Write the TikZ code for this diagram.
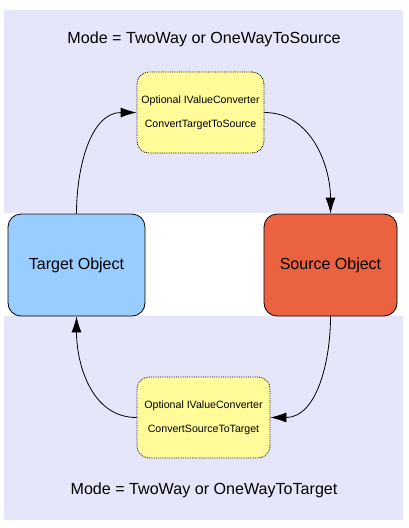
\documentclass[tikz,border=0pt]{standalone}
\usepackage{fontspec}
\setmainfont{Liberation Sans}
\usepackage{tikz}
\usetikzlibrary{arrows.meta}

\definecolor{bandbg}{HTML}{E6E6FA}
\definecolor{convyellow}{HTML}{FFFC99}
\definecolor{tgtblue}{HTML}{99CCFF}
\definecolor{srcred}{HTML}{EA6240}

\begin{document}
\begin{tikzpicture}[x=1pt,y=-1pt,
  obj/.style={draw, line width=0.8pt, rounded corners=13pt, minimum height=102pt, font=\fontsize{16}{19}\selectfont},
  conv/.style={draw, densely dotted, line width=0.8pt, rounded corners=12pt, fill=convyellow, minimum height=81pt, align=center, font=\fontsize{10.6}{13}\selectfont},
  mode/.style={font=\fontsize{16.1}{19}\selectfont},
  arr/.style={-{Latex[length=16pt,width=10pt]}, line width=0.8pt}]
  \useasboundingbox (0,0) rectangle (408,528);
  % mode bands
  \fill[bandbg] (4,10) rectangle (403,213);
  \fill[bandbg] (4,316) rectangle (403,520);

  \node[mode] (m1) at (204,39) {Mode = TwoWay or OneWayToSource};
  \node[mode] (m2) at (204,490) {Mode = TwoWay or OneWayToTarget};

  \node[obj, fill=tgtblue, minimum width=137pt] (tgt) at (76.5,265) {Target Object};
  \node[obj, fill=srcred, minimum width=133pt] (src) at (330.5,265) {Source Object};

  \node[conv, minimum width=127pt] (c1) at (200.5,112.5)
    {Optional IValueConverter\\[11pt]ConvertTargetToSource};
  \node[conv, minimum width=133pt] (c2) at (203.5,417.5)
    {Optional IValueConverter\\[11pt]ConvertSourceToTarget};

  \path[arr]
  (tgt.north) edge [out=90,in=180] (c1.west)
  (c1.east)   edge [out=0,in=90]   (src.north)
  (src.south) edge [out=-90,in=0]  (c2.east)
  (c2.west)   edge [out=180,in=-90] (tgt.south)
  ;
\end{tikzpicture}
\end{document}
